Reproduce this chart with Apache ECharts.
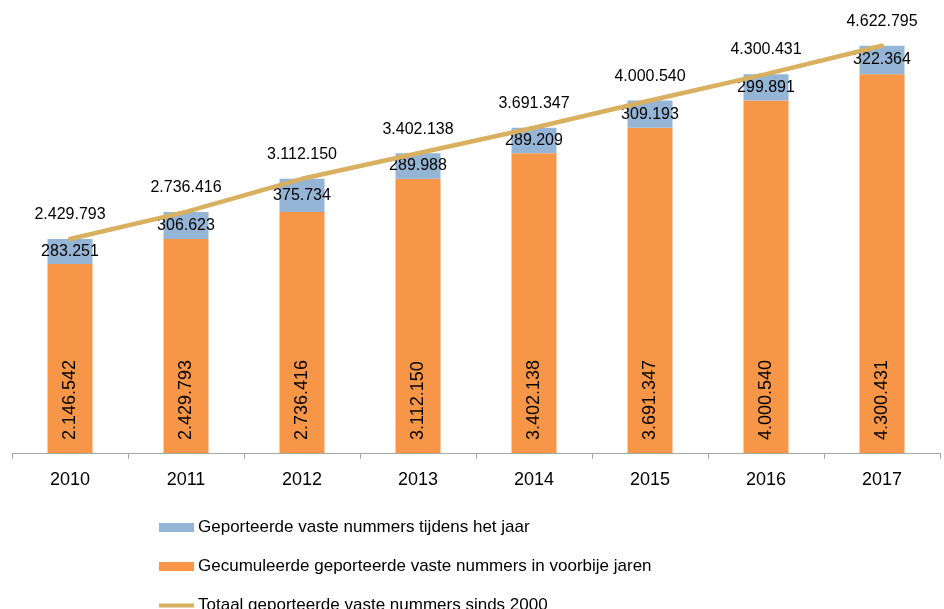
<!DOCTYPE html>
<html>
<head>
<meta charset="utf-8">
<script src="https://cdn.jsdelivr.net/npm/echarts@6/dist/echarts.min.js"></script>
<style>
  html, body { margin: 0; padding: 0; background: #fff; }
  #chart { width: 944px; height: 609px; }
</style>
</head>
<body>
<div id="chart"></div>
<script>
// jaren en waarden
var jaren = ['2010', '2011', '2012', '2013', '2014', '2015', '2016', '2017'];
var gecumuleerd = [2146542, 2429793, 2736416, 3112150, 3402138, 3691347, 4000540, 4300431];
var tijdensJaar = [283251, 306623, 375734, 289988, 289209, 309193, 299891, 322364];
var totaal = [2429793, 2736416, 3112150, 3402138, 3691347, 4000540, 4300431, 4622795];

var naamJaar = 'Geporteerde vaste nummers tijdens het jaar';
var naamCum = 'Gecumuleerde geporteerde vaste nummers in voorbije jaren';
var naamTotaal = 'Totaal geporteerde vaste nummers sinds 2000';

var kleurJaar = '#94B5D6';
var kleurCum = '#F79646';
var kleurTotaal = '#D8B060';

// punt als duizendtal-scheiding
function fmt(v) {
    return String(v).replace(/\B(?=(\d{3})+(?!\d))/g, '.');
}

var font = '"Liberation Sans", Arial, sans-serif';
var chart = echarts.init(document.getElementById('chart'));

// een legende per regel, anders breekt hij af onderaan
function legende(naam, top, hoogte) {
    return {
        left: 154,
        top: top,
        itemWidth: 35,
        itemHeight: hoogte,
        icon: 'rect',
        selectedMode: false,
        data: [naam],
        textStyle: { fontSize: 17, color: '#000', padding: [0, 0, 0, -1] }
    };
}

var option = {
    animation: false,
    textStyle: { fontFamily: font },
    grid: { left: 12, right: 4, top: 12.5, bottom: 156 },
    legend: [
        legende(naamJaar, 514, 9),
        legende(naamCum, 553, 9),
        legende(naamTotaal, 592, 4)
    ],
    xAxis: {
        type: 'category',
        data: jaren,
        axisLine: { lineStyle: { color: '#a6a6a6', width: 1 } },
        axisTick: { show: true, length: 6, lineStyle: { color: '#a6a6a6' } },
        axisLabel: { fontSize: 18, color: '#000', margin: 18 }
    },
    yAxis: {
        type: 'value',
        min: 0,
        max: 5000000,
        show: false,
        splitLine: { show: false }
    },
    series: [
        {
            name: naamCum,
            type: 'bar',
            stack: 'a',
            barWidth: 45,
            data: gecumuleerd,
            itemStyle: { color: kleurCum },
            label: {
                show: true,
                position: 'insideBottom',
                rotate: 90,
                align: 'left',
                verticalAlign: 'middle',
                distance: 13,
                fontSize: 18,
                color: '#000',
                formatter: function (p) { return fmt(p.value); }
            }
        },
        {
            name: naamJaar,
            type: 'bar',
            stack: 'a',
            barWidth: 45,
            data: tijdensJaar,
            itemStyle: { color: kleurJaar },
            label: {
                show: true,
                position: 'inside',
                fontSize: 16,
                color: '#000',
                formatter: function (p) { return fmt(p.value); }
            }
        },
        {
            name: naamTotaal,
            type: 'line',
            data: totaal,
            symbol: 'circle',
            symbolSize: 0.1,
            showSymbol: true,
            z: 5,
            lineStyle: { color: kleurTotaal, width: 4.5, cap: 'round' },
            itemStyle: { color: kleurTotaal },
            label: {
                show: true,
                position: 'top',
                distance: 16,
                fontSize: 16,
                color: '#000',
                formatter: function (p) { return fmt(p.value); }
            }
        }
    ]
};

chart.setOption(option);
</script>
</body>
</html>
